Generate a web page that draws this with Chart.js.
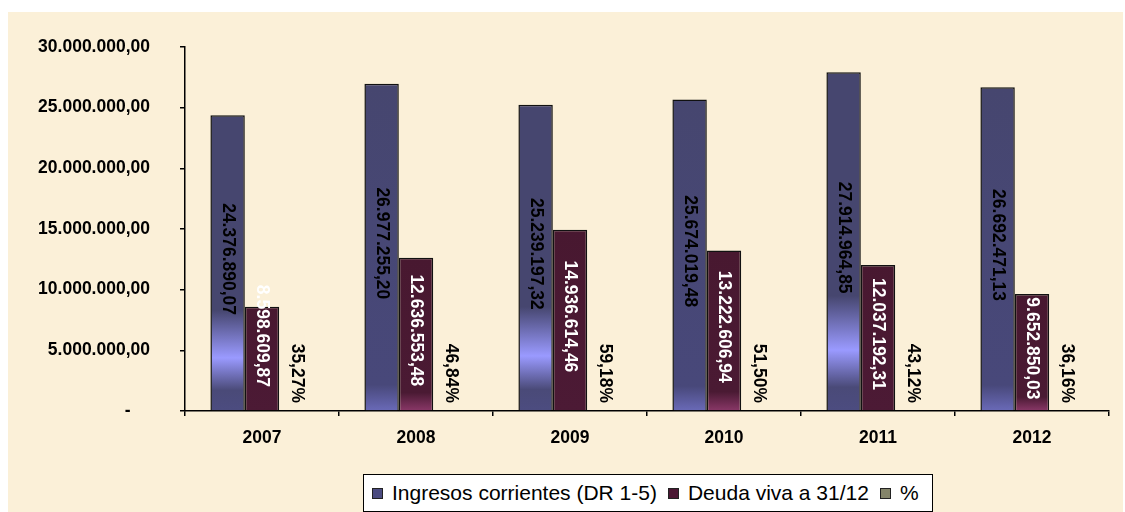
<!DOCTYPE html>
<html>
<head>
<meta charset="utf-8">
<script src="https://cdn.jsdelivr.net/npm/chart.js@4/dist/chart.umd.min.js"></script>
<style>
  html, body { margin: 0; padding: 0; background: #ffffff; }
  #wrap { position: relative; width: 1125px; height: 512px; overflow: hidden; }
  #bg { position: absolute; left: 8px; top: 12px; width: 1115px; height: 500px; background: #fbf0d8; }
  #c { position: absolute; left: 0; top: 0; }
  #legend { position: absolute; left: 363px; top: 474px; width: 560px; height: 36px;
    border: 1px solid #000; background: #fff; display: flex; align-items: center;
    font: 21px "Liberation Sans", Arial, sans-serif; color: #000; box-sizing: content-box; padding-left: 8px; }
  .sw { width: 9px; height: 9px; border: 1px solid #222; margin-right: 9px; }
  .lt { margin-right: 11px; white-space: nowrap; }
</style>
</head>
<body>
<div id="wrap">
  <div id="bg"></div>
  <canvas id="c" width="1125" height="512"></canvas>
  <div id="legend"></div>
</div>
<script>
const categories = ['2007', '2008', '2009', '2010', '2011', '2012'];
const ingresos = [24376890.07, 26977255.20, 25239197.32, 25674019.48, 27914964.85, 26692471.13];
const deuda = [8598609.87, 12636553.48, 14936614.46, 13222606.94, 12037192.31, 9652850.03];
const porcentaje = [35.27, 46.84, 59.18, 51.50, 43.12, 36.16];
const seriesLabels = ['Ingresos corrientes (DR 1-5)', 'Deuda viva a 31/12', '%'];
const legendColors = ['#4b4b80', '#4a1733', '#85856a'];
const yTicks = [0, 5000000, 10000000, 15000000, 20000000, 25000000, 30000000];

function fmtEs(v) {
  const s = Math.abs(v).toFixed(2);
  const [ip, dp] = s.split('.');
  const withDots = ip.replace(/\B(?=(\d{3})+(?!\d))/g, '.');
  return (v < 0 ? '-' : '') + withDots + ',' + dp;
}

const FONT_FAMILY = '"Liberation Sans", Arial, sans-serif';
const FONT_BOLD = 'bold 17.5px ' + FONT_FAMILY;

function blueFill(ctx) {
  const chart = ctx.chart;
  const ys = chart.scales && chart.scales.y;
  if (!ys || !chart.chartArea || ctx.type !== 'data') return '#46466f';
  const top = ys.getPixelForValue(ctx.raw);
  const base = ys.getPixelForValue(0);
  const g = chart.ctx.createLinearGradient(0, top, 0, base);
  if (ctx.dataIndex % 2 === 0) {
    g.addColorStop(0, '#46466f');
    g.addColorStop(0.66, '#46466f');
    g.addColorStop(0.82, '#9a9aff');
    g.addColorStop(0.93, '#4a4a78');
    g.addColorStop(1, '#4c4c80');
  } else {
    g.addColorStop(0, '#46466f');
    g.addColorStop(0.92, '#48487a');
    g.addColorStop(1, '#6a6ab8');
  }
  return g;
}
function maroonFill(ctx) {
  const chart = ctx.chart;
  const ys = chart.scales && chart.scales.y;
  if (!ys || !chart.chartArea || ctx.type !== 'data') return '#481830';
  const top = ys.getPixelForValue(ctx.raw);
  const base = ys.getPixelForValue(0);
  const g = chart.ctx.createLinearGradient(0, top, 0, base);
  if (ctx.dataIndex % 2 === 1) {
    g.addColorStop(0, '#481830');
    g.addColorStop(0.88, '#4a1a33');
    g.addColorStop(1, '#8a3868');
  } else {
    g.addColorStop(0, '#481830');
    g.addColorStop(1, '#4c1a35');
  }
  return g;
}

const labelPlugin = {
  id: 'barLabels',
  afterDatasetsDraw(chart) {
    const c = chart.ctx;
    const ys = chart.scales.y;
    const base = ys.getPixelForValue(0);
    c.save();
    c.font = FONT_BOLD;
    c.textBaseline = 'middle';
    chart.data.datasets.forEach((ds, di) => {
      const meta = chart.getDatasetMeta(di);
      meta.data.forEach((bar, i) => {
        const v = ds.data[i];
        const txt = di === 2 ? fmtEs(v) + '%' : fmtEs(v);
        const len = c.measureText(txt).width;
        c.save();
        if (di === 2) {
          c.fillStyle = '#000';
          c.translate(bar.x, base - 8);
          c.rotate(Math.PI / 2);
          c.textAlign = 'right';
          c.fillText(txt, 0, 0);
        } else {
          const top = bar.y;
          const h = base - top;
          let cy = (top + base) / 2 - 4;
          if (len > h - 8) cy = base - 24 - len / 2;
          c.fillStyle = di === 0 ? '#000' : '#fff';
          c.translate(bar.x, cy);
          c.rotate(Math.PI / 2);
          c.textAlign = 'center';
          c.fillText(txt, 0, 0);
        }
        c.restore();
      });
    });
    c.restore();
  }
};

new Chart(document.getElementById('c'), {
  type: 'bar',
  data: {
    labels: categories,
    datasets: [
      { label: seriesLabels[0], data: ingresos, backgroundColor: blueFill, borderColor: '#111', borderWidth: 1.5 },
      { label: seriesLabels[1], data: deuda, backgroundColor: maroonFill, borderColor: '#111', borderWidth: 1.5 },
      { label: seriesLabels[2], data: porcentaje, backgroundColor: 'rgba(0,0,0,0)', borderWidth: 0 }
    ]
  },
  options: {
    responsive: false,
    animation: false,
    devicePixelRatio: 1,
    layout: { padding: { top: 47, right: 16, bottom: 61, left: 0 } },
    datasets: { bar: { categoryPercentage: 0.67, barPercentage: 1.0 } },
    plugins: { legend: { display: false }, tooltip: { enabled: false } },
    scales: {
      x: {
        grid: { offset: true, drawOnChartArea: false, drawTicks: true, tickLength: 5, color: '#000', lineWidth: 1.5 },
        border: { display: true, color: '#000', width: 1.5 },
        ticks: { color: '#000', font: { family: FONT_FAMILY, size: 17.5, weight: 'bold' }, padding: 12 },
        afterFit(scale) { scale.height = 40; }
      },
      y: {
        min: 0, max: 30000000,
        afterBuildTicks(scale) { scale.ticks = yTicks.map(v => ({ value: v })); },
        grid: { drawOnChartArea: false, drawTicks: true, tickLength: 5, color: '#000', lineWidth: 1.5 },
        border: { display: true, color: '#000', width: 1.5 },
        ticks: {
          color: '#000', padding: 30,
          font: { family: FONT_FAMILY, size: 17.5, weight: 'bold' },
          callback: (v) => v === 0 ? '-    ' : fmtEs(v)
        },
        afterFit(scale) { scale.width = 185; }
      }
    }
  },
  plugins: [labelPlugin]
});

const leg = document.getElementById('legend');
seriesLabels.forEach((t, i) => {
  const sw = document.createElement('span');
  sw.className = 'sw';
  sw.style.background = legendColors[i];
  const lt = document.createElement('span');
  lt.className = 'lt';
  lt.textContent = t;
  leg.appendChild(sw);
  leg.appendChild(lt);
});
</script>
</body>
</html>
